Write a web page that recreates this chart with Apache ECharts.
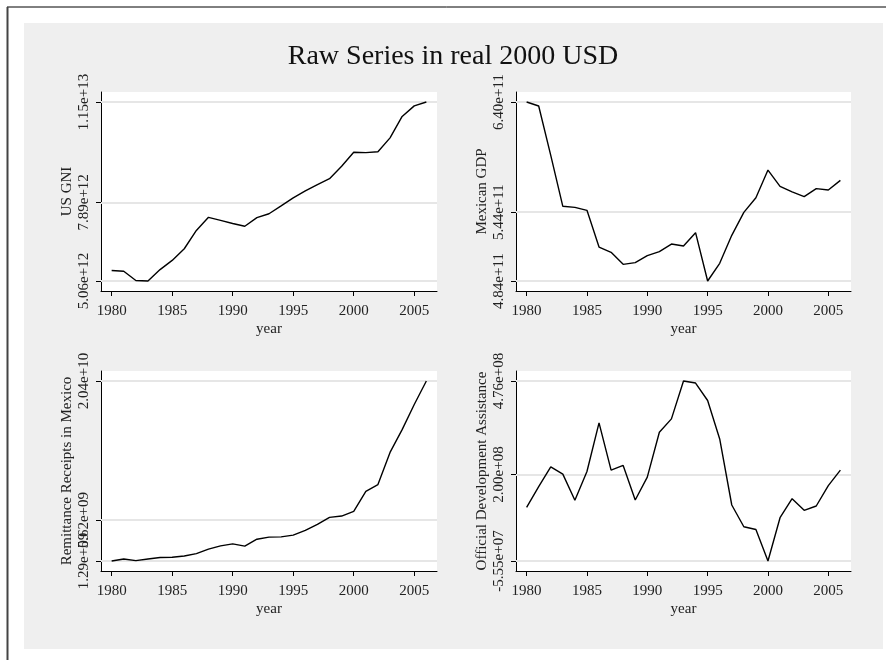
<!DOCTYPE html>
<html>
<head>
<meta charset="utf-8">
<script src="https://cdn.jsdelivr.net/npm/echarts@6/dist/echarts.min.js"></script>
<style>
html,body{margin:0;padding:0;background:#fff;}
#chart{width:886px;height:660px;}
</style>
</head>
<body>
<div id="chart"></div>
<script>
// ---- data ----
const years = [1980,1981,1982,1983,1984,1985,1986,1987,1988,1989,1990,1991,1992,1993,1994,1995,1996,1997,1998,1999,2000,2001,2002,2003,2004,2005,2006];
const yearTicks = [1980,1985,1990,1995,2000,2005];

const usGNI = [5.44e12,5.41e12,5.08e12,5.06e12,5.47e12,5.80e12,6.22e12,6.88e12,7.35e12,7.24e12,7.13e12,7.03e12,7.34e12,7.48e12,7.76e12,8.05e12,8.30e12,8.53e12,8.74e12,9.19e12,9.69e12,9.68e12,9.71e12,10.21e12,10.98e12,11.36e12,11.50e12];
const usTicks = [5.06e12, 7.89e12, 1.15e13];
const usTickLabels = ['5.06e+12','7.89e+12','1.15e+13'];

const mexGDP = [6.40e11,6.365e11,5.935e11,5.491e11,5.482e11,5.456e11,5.136e11,5.090e11,4.985e11,5.000e11,5.061e11,5.096e11,5.162e11,5.145e11,5.261e11,4.84e11,4.994e11,5.238e11,5.438e11,5.566e11,5.807e11,5.665e11,5.616e11,5.575e11,5.645e11,5.633e11,5.717e11];
const mexTicks = [4.84e11, 5.44e11, 6.40e11];
const mexTickLabels = ['4.84e+11','5.44e+11','6.40e+11'];

const remit = [1.29e9,1.50e9,1.33e9,1.50e9,1.65e9,1.68e9,1.82e9,2.07e9,2.54e9,2.89e9,3.10e9,2.86e9,3.60e9,3.82e9,3.85e9,4.03e9,4.53e9,5.17e9,5.92e9,6.06e9,6.56e9,8.69e9,9.40e9,12.82e9,15.24e9,17.91e9,20.40e9];
const remitTicks = [1.29e9, 5.62e9, 2.04e10];
const remitTickLabels = ['1.29e+09','5.62e+09','2.04e+10'];

const oda = [1.029e8,1.642e8,2.226e8,2.009e8,1.237e8,2.088e8,3.523e8,2.127e8,2.266e8,1.246e8,1.920e8,3.246e8,3.642e8,4.76e8,4.701e8,4.186e8,3.048e8,1.098e8,0.455e8,0.375e8,-0.555e8,0.722e8,1.286e8,0.940e8,1.068e8,1.672e8,2.127e8];
const odaTicks = [-5.55e7, 2.00e8, 4.76e8];
const odaTickLabels = ['-5.55e+07','2.00e+08','4.76e+08'];

const titleText = 'Raw Series in real 2000 USD';
const panels = [
  {name:'US GNI', values:usGNI, ticks:usTicks, labels:usTickLabels},
  {name:'Mexican GDP', values:mexGDP, ticks:mexTicks, labels:mexTickLabels},
  {name:'Remittance Receipts in Mexico', values:remit, ticks:remitTicks, labels:remitTickLabels},
  {name:'Official Development Assistance', values:oda, ticks:odaTicks, labels:odaTickLabels}
];

// ---- layout ----
const FONT = '"Liberation Serif", "DejaVu Serif", serif';
const grids = [
  {left:101, top:92, width:336, height:199},
  {left:516, top:92, width:335, height:199},
  {left:101, top:371, width:336, height:200},
  {left:516, top:371, width:335, height:200}
];
const PAD = 10/179;

function labelFor(p){
  return v=>{ let k=0,b=Infinity; p.ticks.forEach((t,j)=>{const d=Math.abs(t-v); if(d<b){b=d;k=j;}}); return p.labels[k]; };
}

const yMain = panels.map((p,i) => {
  const lo = p.ticks[0], hi = p.ticks[p.ticks.length-1], r = hi-lo;
  return {
    gridIndex:i, type:'value', position:'left', min:lo - r*PAD, max:hi + r*PAD,
    name:p.name, nameLocation:'middle', nameGap:26,
    nameTextStyle:{fontFamily:FONT, fontSize:15, color:'#222'},
    axisLine:{show:true, onZero:false, lineStyle:{color:'#000', width:1}},
    axisTick:{show:true, length:5, customValues:p.ticks, lineStyle:{color:'#000'}},
    axisLabel:{customValues:p.ticks.slice(1), rotate:90, margin:9, hideOverlap:false, fontFamily:FONT, fontSize:15, color:'#222',
      formatter:labelFor(p)},
    splitLine:{show:false}
  };
});
// second left axis per panel carrying only the lowest tick label (labels may overlap, as in the original)
const yLow = panels.map((p,i) => {
  const lo = p.ticks[0], hi = p.ticks[p.ticks.length-1], r = hi-lo;
  return {
    gridIndex:i, type:'value', position:'left', min:lo - r*PAD, max:hi + r*PAD,
    axisLine:{show:false}, axisTick:{show:false}, splitLine:{show:false},
    axisLabel:{customValues:[p.ticks[0]], rotate:90, margin:9, fontFamily:FONT, fontSize:15, color:'#222',
      formatter:labelFor(p)}
  };
});

const option = {
  animation:false,
  backgroundColor:'#fff',
  textStyle:{fontFamily:FONT},
  title:{
    text:titleText, left:453, top:43, textAlign:'center', padding:0,
    textStyle:{fontFamily:FONT, fontSize:28, fontWeight:'normal', color:'#111'}
  },
  graphic:[
    {type:'rect', z:-10, shape:{x:24,y:23,width:859,height:626}, style:{fill:'#efefef'}},
    {type:'line', z:-5, shape:{x1:7,y1:7,x2:886,y2:7}, style:{stroke:'#000', lineWidth:1}},
    {type:'line', z:-5, shape:{x1:7.5,y1:7,x2:7.5,y2:660}, style:{stroke:'#444', lineWidth:2}}
  ],
  grid: grids.map(g => Object.assign({show:true, backgroundColor:'#fff', borderWidth:0, containLabel:false}, g)),
  xAxis: panels.map((p,i) => ({
    gridIndex:i, type:'value', position:'bottom', min:1979.12, max:2006.88,
    name:'year', nameLocation:'middle', nameGap:31,
    nameTextStyle:{fontFamily:FONT, fontSize:15, color:'#222'},
    axisLine:{show:true, onZero:false, lineStyle:{color:'#000', width:1}},
    axisTick:{show:true, length:5, customValues:yearTicks, lineStyle:{color:'#000'}},
    axisLabel:{customValues:yearTicks, margin:13, hideOverlap:false, fontFamily:FONT, fontSize:15, color:'#222', formatter:v=>String(v)},
    splitLine:{show:false}
  })),
  yAxis: yMain.concat(yLow),
  series: []
};

panels.forEach((p,i) => {
  option.series.push({
    type:'line', xAxisIndex:i, yAxisIndex:i, data:[], z:1, silent:true,
    markLine:{silent:true, z:1, symbol:['none','none'], label:{show:false},
      lineStyle:{color:'#e6e6e6', width:2, type:'solid'},
      emphasis:{disabled:true},
      data:p.ticks.map(t=>({yAxis:t}))}
  });
  option.series.push({
    type:'line', xAxisIndex:i, yAxisIndex:i, z:10, showSymbol:false, symbol:'none',
    lineStyle:{color:'#000', width:1.4},
    data:years.map((y,k)=>[y, p.values[k]])
  });
});

const chart = echarts.init(document.getElementById('chart'), null, {renderer:'canvas'});
chart.setOption(option);
</script>
</body>
</html>
